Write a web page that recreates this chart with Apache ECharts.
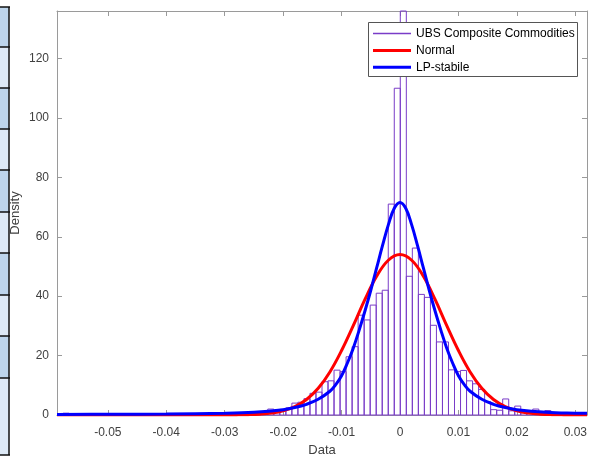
<!DOCTYPE html>
<html><head><meta charset="utf-8">
<script src="https://cdn.jsdelivr.net/npm/echarts@6/dist/echarts.min.js"></script>
<style>html,body{margin:0;padding:0;background:#fff}#c{width:592px;height:457px}</style>
</head><body><div id="c"></div>
<script>
// ---- data ----
const xMin = -0.0587, xMax = 0.0320, binCount = 88;
const yMax = 136;
const xTicks = [-0.05, -0.04, -0.03, -0.02, -0.01, 0, 0.01, 0.02, 0.03];
const yTicks = [0, 20, 40, 60, 80, 100, 120];
const binHeights = [
  0, 0.6, 0, 0, 0, 0, 0, 0, 0, 0,
  0, 0, 0, 0, 0, 0, 0, 0, 0, 0,
  0, 0, 0, 0, 0, 0, 0, 0, 0, 0,
  0, 0, 0, 0.3, 0.3, 2.0, 0.8, 1.9, 2.4, 4.0,
  4.3, 5.5, 7.3, 7.7, 11.2, 11.5, 15.1, 14.6, 19.6, 23.0,
  33.6, 32.0, 37.0, 41.0, 42.0, 71.0, 110.0, 136.0, 46.7, 56.2,
  40.6, 39.6, 30.2, 24.6, 24.6, 15.2, 14.6, 15.0, 11.5, 10.5,
  8.6, 4.5, 1.8, 1.6, 5.4, 1.4, 3.0, 0.8, 0.8, 2.0,
  0.5, 1.5, 0.3, 0.3, 0.2, 0.3, 0.5, 0
];
const normalX = [-0.0587, -0.04, -0.032, -0.03, -0.028, -0.026, -0.024, -0.022, -0.02, -0.018, -0.016, -0.014, -0.012, -0.01, -0.008, -0.006, -0.004, -0.002, 0,
  0.002, 0.004, 0.006, 0.008, 0.01, 0.012, 0.014, 0.016, 0.018, 0.02, 0.022, 0.024, 0.026, 0.028, 0.03, 0.032];
const normalY = [0, 0, 0.005, 0.015, 0.04, 0.11, 0.28, 0.65, 1.4, 2.8, 5.2, 9.0, 14.5, 21.7, 30.1, 38.9, 46.7, 52.1, 54,
  52.1, 46.7, 38.9, 30.1, 21.7, 14.5, 9.0, 5.2, 2.8, 1.4, 0.65, 0.28, 0.11, 0.04, 0.015, 0.005];
const stableX = [-0.0587, -0.05, -0.04, -0.03, -0.025, -0.02, -0.018, -0.016, -0.014, -0.012, -0.011, -0.01, -0.009, -0.008, -0.007, -0.006, -0.005, -0.004, -0.003, -0.002, -0.001, 0,
  0.001, 0.002, 0.003, 0.004, 0.005, 0.006, 0.007, 0.008, 0.009, 0.01, 0.011, 0.012, 0.014, 0.016, 0.018, 0.02, 0.025, 0.03, 0.032];
const stableY = [0.2, 0.25, 0.35, 0.6, 0.95, 1.8, 2.5, 3.6, 5.3, 8.0, 10.2, 13.2, 17.5, 22.5, 28.5, 35, 42, 49.5, 57, 64, 69.5, 71.5,
  69.5, 64, 57, 49.5, 42, 35, 28.5, 22.5, 17.5, 13.2, 10.2, 8.0, 5.3, 3.6, 2.5, 1.8, 0.95, 0.6, 0.55];
const seriesNames = ['UBS Composite Commodities', 'Normal', 'LP-stabile'];

// ---- build ----
const binWidth = (xMax - xMin) / binCount;
const histData = binHeights.map((h, i) => [xMin + i * binWidth, xMin + (i + 1) * binWidth, h]);
const normalData = normalX.map((x, i) => [x, normalY[i]]);
const stableData = stableX.map((x, i) => [x, stableY[i]]);

const PURPLE = '#7a3cc8';
const FONT = 'Liberation Sans, Arial, Helvetica, sans-serif';
const axisLineColor = '#9a9a9a';
const labelColor = '#404040';

// left-edge decoration (partial table strip)
const stripBounds = [7, 47, 88, 129, 170, 212, 253, 295, 336, 378, 455];
const stripEls = [];
for (let i = 0; i < stripBounds.length - 1; i++) {
  stripEls.push({type: 'rect', shape: {x: 0, y: stripBounds[i], width: 9, height: stripBounds[i + 1] - stripBounds[i]},
    style: {fill: i % 2 === 0 ? '#bdd5ec' : '#dde9f6'}, silent: true});
}
for (let i = 0; i < stripBounds.length; i++) {
  stripEls.push({type: 'line', shape: {x1: 0, y1: stripBounds[i], x2: 10, y2: stripBounds[i]},
    style: {stroke: '#111', lineWidth: 1.5}, silent: true});
}
stripEls.push({type: 'line', shape: {x1: 9, y1: stripBounds[0], x2: 9, y2: 455}, style: {stroke: '#111', lineWidth: 1.5}, silent: true});

const chart = echarts.init(document.getElementById('c'), null, {renderer: 'canvas'});
const grid = {left: 57, right: 5, top: 11, bottom: 42, containLabel: false, outerBoundsMode: 'none'};

const xBase = {
  type: 'value', min: xMin, max: xMax,
  axisLine: {show: true, onZero: false, lineStyle: {color: axisLineColor, width: 1}},
  axisTick: {show: true, inside: true, length: 5, customValues: xTicks, lineStyle: {color: axisLineColor}},
  splitLine: {show: false}
};
const yBase = {
  type: 'value', min: 0, max: yMax,
  axisLine: {show: true, onZero: false, lineStyle: {color: axisLineColor, width: 1}},
  axisTick: {show: true, inside: true, length: 5, customValues: yTicks, lineStyle: {color: axisLineColor}},
  splitLine: {show: false}
};

chart.setOption({
  animation: false,
  backgroundColor: '#fff',
  textStyle: {fontFamily: FONT},
  grid: grid,
  xAxis: [
    Object.assign({}, xBase, {
      position: 'bottom',
      name: 'Data', nameLocation: 'middle', nameGap: 29, nameMoveOverlap: false,
      nameTextStyle: {color: labelColor, fontSize: 13, fontFamily: FONT},
      axisLabel: {show: true, customValues: xTicks, margin: 12, color: labelColor, fontSize: 12, fontFamily: FONT,
        formatter: v => String(+v.toFixed(3))}
    }),
    Object.assign({}, xBase, {position: 'top', axisLabel: {show: false}})
  ],
  yAxis: [
    Object.assign({}, yBase, {
      position: 'left',
      name: 'Density', nameLocation: 'middle', nameGap: 35, nameRotate: 90, nameMoveOverlap: false,
      nameTextStyle: {color: labelColor, fontSize: 13, fontFamily: FONT},
      axisLabel: {show: true, customValues: yTicks, margin: 8, color: labelColor, fontSize: 12, fontFamily: FONT}
    }),
    Object.assign({}, yBase, {position: 'right', axisLabel: {show: false}})
  ],
  legend: [
    {
      orient: 'vertical', left: 373, top: 26.5, padding: 0, itemWidth: 38, itemHeight: 1.5, itemGap: 3,
      zlevel: 4, z: 10,
      textStyle: {color: '#000', fontSize: 12, fontFamily: FONT, lineHeight: 14},
      data: [{name: seriesNames[0], icon: 'rect', itemStyle: {color: PURPLE, borderWidth: 0}}],
      selectedMode: false
    },
    {
      orient: 'vertical', left: 373, top: 43.5, padding: 0, itemWidth: 38, itemHeight: 3, itemGap: 2.7,
      zlevel: 4, z: 11,
      textStyle: {color: '#000', fontSize: 12, fontFamily: FONT, lineHeight: 14},
      data: [
        {name: seriesNames[1], icon: 'rect', itemStyle: {color: '#ff0000', borderWidth: 0}},
        {name: seriesNames[2], icon: 'rect', itemStyle: {color: '#0000ff', borderWidth: 0}}
      ],
      selectedMode: false
    }
  ],
  graphic: {
    elements: [
      {type: 'group', children: stripEls},
      {type: 'rect', zlevel: 3, z: 100, shape: {x: 368.5, y: 22.5, width: 209, height: 54},
        style: {fill: '#ffffff', stroke: '#555555', lineWidth: 1}, silent: true}
    ]
  },
  series: [
    {
      name: seriesNames[0], type: 'custom', xAxisIndex: 0, yAxisIndex: 0, z: 1, zlevel: 0,
      itemStyle: {color: PURPLE},
      encode: {x: [0, 1], y: 2},
      data: histData,
      renderItem: function (params, api) {
        const p0 = api.coord([api.value(0), api.value(2)]);
        const p1 = api.coord([api.value(1), 0]);
        return {
          type: 'rect',
          shape: {x: p0[0], y: p0[1], width: p1[0] - p0[0], height: p1[1] - p0[1]},
          style: {fill: 'rgba(0,0,0,0)', stroke: PURPLE, lineWidth: 1}
        };
      }
    },
    {
      name: seriesNames[1], type: 'line', data: normalData, smooth: 0.4, symbol: 'none', z: 2,
      lineStyle: {color: '#ff0000', width: 3}, itemStyle: {color: '#ff0000'}
    },
    {
      name: seriesNames[2], type: 'line', data: stableData, smooth: 0.4, symbol: 'none', z: 3,
      lineStyle: {color: '#0000ff', width: 3}, itemStyle: {color: '#0000ff'}
    }
  ]
});
</script></body></html>
